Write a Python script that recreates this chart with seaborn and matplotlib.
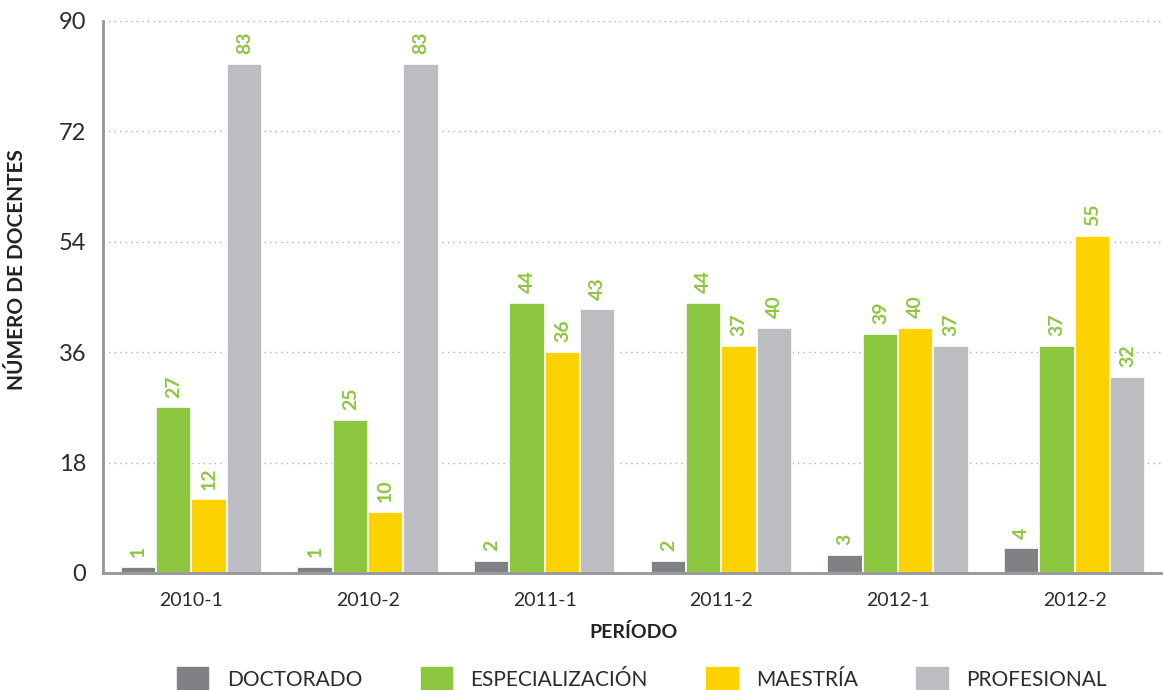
import pandas as pd
import seaborn as sns
import matplotlib.pyplot as plt
from matplotlib.ticker import FixedLocator

# Datos
periodos = ['2010-1', '2010-2', '2011-1', '2011-2', '2012-1', '2012-2']
niveles = ['DOCTORADO', 'ESPECIALIZACIÓN', 'MAESTRÍA', 'PROFESIONAL']
doctorado = [1, 1, 2, 2, 3, 4]
especializacion = [27, 25, 44, 44, 39, 37]
maestria = [12, 10, 36, 37, 40, 55]
profesional = [83, 83, 43, 40, 37, 32]
y_ticks = [0, 18, 36, 54, 72, 90]

colores = ['#808184', '#8dc63f', '#fcd200', '#bcbdc0']
gris_eje = '#939598'
verde = '#8dc63f'
texto = '#2b2b2b'

df = pd.DataFrame({
    'Período': periodos * 4,
    'Nivel': [n for n in niveles for _ in periodos],
    'Docentes': doctorado + especializacion + maestria + profesional,
})

sns.set_style('white')
plt.rcParams['font.family'] = ['Lato', 'DejaVu Sans']

fig = plt.figure(figsize=(11.63, 6.9), dpi=100)
ax = fig.add_axes([0.0886, 0.1696, 0.9114, 0.8])

sns.barplot(data=df, x='Período', y='Docentes', hue='Nivel', order=periodos,
            hue_order=niveles, palette=colores, width=0.8, edgecolor='white',
            linewidth=1.2, saturation=1, legend=False, ax=ax)

for cont in ax.containers:
    ax.bar_label(cont, rotation=90, padding=7, color=verde, fontsize=14,
                 fontweight='bold')

ax.set_xlim(-0.5, 5.5)
ax.set_ylim(0, 90)
ax.set_yticks(y_ticks)
ax.yaxis.grid(True, linestyle=(0, (1, 3)), color='#b0b0b0', linewidth=1)
ax.set_axisbelow(True)

for s in ['top', 'right']:
    ax.spines[s].set_visible(False)
for s in ['left', 'bottom']:
    ax.spines[s].set_color(gris_eje)
    ax.spines[s].set_linewidth(2)

ax.tick_params(axis='y', direction='in', length=12, width=2, color=gris_eje,
               labelsize=17, labelcolor=texto, pad=12)
ax.tick_params(axis='x', which='major', length=0, labelsize=14,
               labelcolor=texto, pad=14)
ax.xaxis.set_minor_locator(FixedLocator([0.5, 1.5, 2.5, 3.5, 4.5]))
ax.tick_params(axis='x', which='minor', direction='in', length=10, width=2,
               color=gris_eje)

ax.set_xlabel('PERÍODO', fontsize=14, fontweight='bold', color='#222222',
              labelpad=10)
ax.set_ylabel('NÚMERO DE DOCENTES', fontsize=15, fontweight='bold',
              color='#222222')
ax.yaxis.set_label_coords(-0.072, 0.55)

handles = [plt.Rectangle((0, 0), 1, 1, color=c) for c in colores]
leg = fig.legend(handles, niveles, loc='lower center', ncol=4,
                 bbox_to_anchor=(0.552, -0.03), frameon=False, fontsize=15,
                 handlelength=1.5, handleheight=1.5, columnspacing=2.8,
                 handletextpad=0.9)
for t in leg.get_texts():
    t.set_color(texto)

fig.savefig('out.png', dpi=100)
